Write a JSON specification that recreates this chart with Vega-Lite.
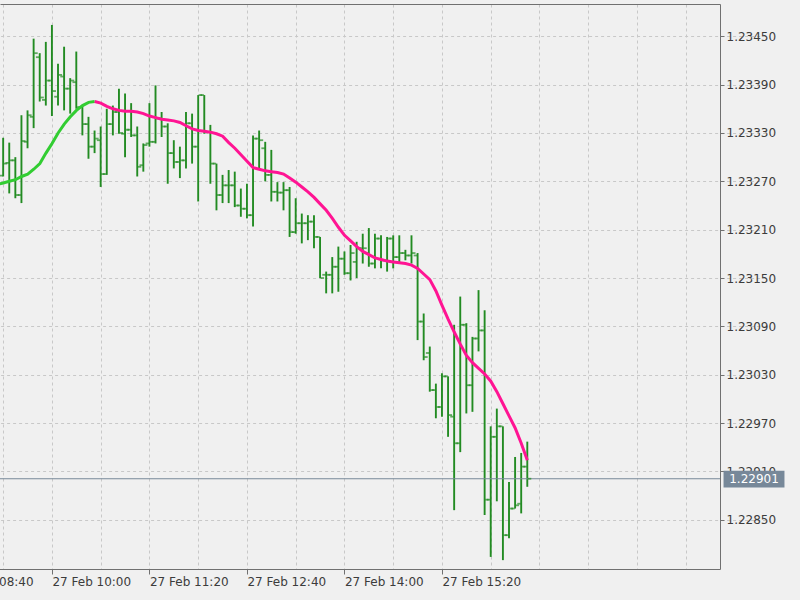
{
  "$schema": "https://vega.github.io/schema/vega-lite/v6.json",
  "description": "EURUSD M5, 27 Feb, bars with colour-changing moving average",
  "width": 720,
  "height": 565,
  "autosize": "none",
  "padding": {"left": 0, "top": 4, "right": 80, "bottom": 31},
  "background": "#f0f0f0",
  "datasets": {
    "bars": [
      {"t": "2018-02-27T09:15", "up": 1.23266},
      {"t": "2018-02-27T09:20", "o": 1.23277, "h": 1.23324, "l": 1.23276, "c": 1.23292, "up": 1.23268},
      {"t": "2018-02-27T09:25", "o": 1.23293, "h": 1.23318, "l": 1.23255, "c": 1.23296, "up": 1.23270},
      {"t": "2018-02-27T09:30", "o": 1.23296, "h": 1.23300, "l": 1.23249, "c": 1.23253, "up": 1.23272},
      {"t": "2018-02-27T09:35", "o": 1.23253, "h": 1.23352, "l": 1.23243, "c": 1.23320, "up": 1.23276},
      {"t": "2018-02-27T09:40", "o": 1.23319, "h": 1.23358, "l": 1.23311, "c": 1.23352, "up": 1.23279},
      {"t": "2018-02-27T09:45", "o": 1.23350, "h": 1.23447, "l": 1.23336, "c": 1.23429, "up": 1.23285},
      {"t": "2018-02-27T09:50", "o": 1.23424, "h": 1.23429, "l": 1.23369, "c": 1.23374, "up": 1.23292},
      {"t": "2018-02-27T09:55", "o": 1.23371, "h": 1.23443, "l": 1.23364, "c": 1.23395, "up": 1.23305},
      {"t": "2018-02-27T10:00", "o": 1.23395, "h": 1.23464, "l": 1.23351, "c": 1.23382, "up": 1.23317},
      {"t": "2018-02-27T10:05", "o": 1.23375, "h": 1.23416, "l": 1.23364, "c": 1.23402, "up": 1.23330},
      {"t": "2018-02-27T10:10", "o": 1.23400, "h": 1.23437, "l": 1.23358, "c": 1.23385, "up": 1.23341},
      {"t": "2018-02-27T10:15", "o": 1.23385, "h": 1.23398, "l": 1.23354, "c": 1.23395, "up": 1.23350},
      {"t": "2018-02-27T10:20", "o": 1.23393, "h": 1.23431, "l": 1.23360, "c": 1.23362, "up": 1.23358},
      {"t": "2018-02-27T10:25", "o": 1.23362, "h": 1.23364, "l": 1.23327, "c": 1.23341, "up": 1.23364},
      {"t": "2018-02-27T10:30", "o": 1.23341, "h": 1.23350, "l": 1.23298, "c": 1.23313, "up": 1.23368},
      {"t": "2018-02-27T10:35", "o": 1.23313, "h": 1.23333, "l": 1.23305, "c": 1.23323, "up": 1.23369, "dn": 1.23369},
      {"t": "2018-02-27T10:40", "o": 1.23321, "h": 1.23338, "l": 1.23263, "c": 1.23279, "dn": 1.23367},
      {"t": "2018-02-27T10:45", "o": 1.23279, "h": 1.23360, "l": 1.23278, "c": 1.23341, "dn": 1.23363},
      {"t": "2018-02-27T10:50", "o": 1.23341, "h": 1.23364, "l": 1.23327, "c": 1.23356, "dn": 1.23360},
      {"t": "2018-02-27T10:55", "o": 1.23356, "h": 1.23385, "l": 1.23329, "c": 1.23330, "dn": 1.23358},
      {"t": "2018-02-27T11:00", "o": 1.23329, "h": 1.23379, "l": 1.23300, "c": 1.23334, "dn": 1.23357},
      {"t": "2018-02-27T11:05", "o": 1.23334, "h": 1.23367, "l": 1.23325, "c": 1.23327, "dn": 1.23357},
      {"t": "2018-02-27T11:10", "o": 1.23327, "h": 1.23338, "l": 1.23276, "c": 1.23288, "dn": 1.23356},
      {"t": "2018-02-27T11:15", "o": 1.23290, "h": 1.23317, "l": 1.23282, "c": 1.23315, "dn": 1.23354},
      {"t": "2018-02-27T11:20", "o": 1.23317, "h": 1.23367, "l": 1.23313, "c": 1.23319, "dn": 1.23351},
      {"t": "2018-02-27T11:25", "o": 1.23319, "h": 1.23389, "l": 1.23317, "c": 1.23348, "dn": 1.23349},
      {"t": "2018-02-27T11:30", "o": 1.23348, "h": 1.23356, "l": 1.23325, "c": 1.23338, "dn": 1.23347},
      {"t": "2018-02-27T11:35", "o": 1.23338, "h": 1.23342, "l": 1.23267, "c": 1.23305, "dn": 1.23346},
      {"t": "2018-02-27T11:40", "o": 1.23305, "h": 1.23321, "l": 1.23286, "c": 1.23294, "dn": 1.23345},
      {"t": "2018-02-27T11:45", "o": 1.23294, "h": 1.23313, "l": 1.23274, "c": 1.23296, "dn": 1.23343},
      {"t": "2018-02-27T11:50", "o": 1.23296, "h": 1.23356, "l": 1.23286, "c": 1.23342, "dn": 1.23339},
      {"t": "2018-02-27T11:55", "o": 1.23342, "h": 1.23354, "l": 1.23292, "c": 1.23313, "dn": 1.23335},
      {"t": "2018-02-27T12:00", "o": 1.23313, "h": 1.23377, "l": 1.23245, "c": 1.23377, "dn": 1.23333},
      {"t": "2018-02-27T12:05", "o": 1.23377, "h": 1.23377, "l": 1.23329, "c": 1.23331, "dn": 1.23332},
      {"t": "2018-02-27T12:10", "o": 1.23331, "h": 1.23340, "l": 1.23267, "c": 1.23292, "dn": 1.23331},
      {"t": "2018-02-27T12:15", "o": 1.23292, "h": 1.23292, "l": 1.23234, "c": 1.23253, "dn": 1.23329},
      {"t": "2018-02-27T12:20", "o": 1.23253, "h": 1.23278, "l": 1.23243, "c": 1.23265, "dn": 1.23326},
      {"t": "2018-02-27T12:25", "o": 1.23265, "h": 1.23284, "l": 1.23243, "c": 1.23265, "dn": 1.23318},
      {"t": "2018-02-27T12:30", "o": 1.23265, "h": 1.23282, "l": 1.23238, "c": 1.23240, "dn": 1.23311},
      {"t": "2018-02-27T12:35", "o": 1.23240, "h": 1.23261, "l": 1.23226, "c": 1.23236, "dn": 1.23303},
      {"t": "2018-02-27T12:40", "o": 1.23236, "h": 1.23267, "l": 1.23224, "c": 1.23228, "dn": 1.23295},
      {"t": "2018-02-27T12:45", "o": 1.23228, "h": 1.23327, "l": 1.23214, "c": 1.23323, "dn": 1.23287},
      {"t": "2018-02-27T12:50", "o": 1.23323, "h": 1.23333, "l": 1.23284, "c": 1.23321, "dn": 1.23285},
      {"t": "2018-02-27T12:55", "o": 1.23311, "h": 1.23319, "l": 1.23270, "c": 1.23278, "dn": 1.23283},
      {"t": "2018-02-27T13:00", "o": 1.23278, "h": 1.23309, "l": 1.23245, "c": 1.23257, "dn": 1.23282},
      {"t": "2018-02-27T13:05", "o": 1.23257, "h": 1.23269, "l": 1.23245, "c": 1.23256, "dn": 1.23281},
      {"t": "2018-02-27T13:10", "o": 1.23256, "h": 1.23269, "l": 1.23234, "c": 1.23259, "dn": 1.23279},
      {"t": "2018-02-27T13:15", "o": 1.23259, "h": 1.23263, "l": 1.23201, "c": 1.23207, "dn": 1.23274},
      {"t": "2018-02-27T13:20", "o": 1.23207, "h": 1.23249, "l": 1.23205, "c": 1.23218, "dn": 1.23269},
      {"t": "2018-02-27T13:25", "o": 1.23218, "h": 1.23230, "l": 1.23193, "c": 1.23218, "dn": 1.23263},
      {"t": "2018-02-27T13:30", "o": 1.23218, "h": 1.23228, "l": 1.23197, "c": 1.23220, "dn": 1.23257},
      {"t": "2018-02-27T13:35", "o": 1.23220, "h": 1.23228, "l": 1.23187, "c": 1.23201, "dn": 1.23250},
      {"t": "2018-02-27T13:40", "o": 1.23201, "h": 1.23201, "l": 1.23150, "c": 1.23150, "dn": 1.23242},
      {"t": "2018-02-27T13:45", "o": 1.23154, "h": 1.23158, "l": 1.23131, "c": 1.23154, "dn": 1.23234},
      {"t": "2018-02-27T13:50", "o": 1.23154, "h": 1.23176, "l": 1.23131, "c": 1.23164, "dn": 1.23224},
      {"t": "2018-02-27T13:55", "o": 1.23164, "h": 1.23189, "l": 1.23133, "c": 1.23174, "dn": 1.23213},
      {"t": "2018-02-27T14:00", "o": 1.23174, "h": 1.23183, "l": 1.23154, "c": 1.23156, "dn": 1.23203},
      {"t": "2018-02-27T14:05", "o": 1.23156, "h": 1.23191, "l": 1.23147, "c": 1.23181, "dn": 1.23196},
      {"t": "2018-02-27T14:10", "o": 1.23170, "h": 1.23195, "l": 1.23150, "c": 1.23187, "dn": 1.23189},
      {"t": "2018-02-27T14:15", "o": 1.23187, "h": 1.23205, "l": 1.23168, "c": 1.23187, "dn": 1.23183},
      {"t": "2018-02-27T14:20", "o": 1.23181, "h": 1.23212, "l": 1.23164, "c": 1.23168, "dn": 1.23179},
      {"t": "2018-02-27T14:25", "o": 1.23168, "h": 1.23205, "l": 1.23162, "c": 1.23199, "dn": 1.23175},
      {"t": "2018-02-27T14:30", "o": 1.23199, "h": 1.23203, "l": 1.23162, "c": 1.23172, "dn": 1.23173},
      {"t": "2018-02-27T14:35", "o": 1.23172, "h": 1.23201, "l": 1.23158, "c": 1.23199, "dn": 1.23171},
      {"t": "2018-02-27T14:40", "o": 1.23199, "h": 1.23203, "l": 1.23162, "c": 1.23176, "dn": 1.23170},
      {"t": "2018-02-27T14:45", "o": 1.23176, "h": 1.23203, "l": 1.23168, "c": 1.23181, "dn": 1.23169},
      {"t": "2018-02-27T14:50", "o": 1.23181, "h": 1.23185, "l": 1.23172, "c": 1.23178, "dn": 1.23168},
      {"t": "2018-02-27T14:55", "o": 1.23178, "h": 1.23203, "l": 1.23168, "c": 1.23181, "dn": 1.23166},
      {"t": "2018-02-27T15:00", "o": 1.23178, "h": 1.23181, "l": 1.23073, "c": 1.23096, "dn": 1.23162},
      {"t": "2018-02-27T15:05", "o": 1.23096, "h": 1.23106, "l": 1.23048, "c": 1.23052, "dn": 1.23155},
      {"t": "2018-02-27T15:10", "o": 1.23057, "h": 1.23065, "l": 1.23009, "c": 1.23011, "dn": 1.23148},
      {"t": "2018-02-27T15:15", "o": 1.23011, "h": 1.23019, "l": 1.22976, "c": 1.22990, "dn": 1.23134},
      {"t": "2018-02-27T15:20", "o": 1.22990, "h": 1.23032, "l": 1.22978, "c": 1.23028, "dn": 1.23116},
      {"t": "2018-02-27T15:25", "o": 1.23028, "h": 1.23028, "l": 1.22953, "c": 1.22980, "dn": 1.23099},
      {"t": "2018-02-27T15:30", "o": 1.22978, "h": 1.23092, "l": 1.22862, "c": 1.22945, "dn": 1.23083},
      {"t": "2018-02-27T15:35", "o": 1.22945, "h": 1.23127, "l": 1.22934, "c": 1.23092, "dn": 1.23068},
      {"t": "2018-02-27T15:40", "o": 1.23092, "h": 1.23094, "l": 1.22982, "c": 1.23017, "dn": 1.23054},
      {"t": "2018-02-27T15:45", "o": 1.23017, "h": 1.23077, "l": 1.22984, "c": 1.23075, "dn": 1.23045},
      {"t": "2018-02-27T15:50", "o": 1.23075, "h": 1.23135, "l": 1.23059, "c": 1.23085, "dn": 1.23038},
      {"t": "2018-02-27T15:55", "o": 1.23085, "h": 1.23110, "l": 1.22856, "c": 1.22875, "dn": 1.23031},
      {"t": "2018-02-27T16:00", "o": 1.22875, "h": 1.22966, "l": 1.22804, "c": 1.22953, "dn": 1.23022},
      {"t": "2018-02-27T16:05", "o": 1.22953, "h": 1.22988, "l": 1.22873, "c": 1.22966, "dn": 1.23009},
      {"t": "2018-02-27T16:10", "o": 1.22966, "h": 1.22966, "l": 1.22800, "c": 1.22831, "dn": 1.22994},
      {"t": "2018-02-27T16:15", "o": 1.22831, "h": 1.22897, "l": 1.22827, "c": 1.22864, "dn": 1.22979},
      {"t": "2018-02-27T16:20", "o": 1.22864, "h": 1.22928, "l": 1.22864, "c": 1.22868, "dn": 1.22964},
      {"t": "2018-02-27T16:25", "o": 1.22870, "h": 1.22933, "l": 1.22858, "c": 1.22916, "dn": 1.22945},
      {"t": "2018-02-27T16:30", "o": 1.22916, "h": 1.22947, "l": 1.22891, "c": 1.22901, "dn": 1.22924}
    ],
    "last": [{"price": 1.22901}]
  },
  "resolve": {"scale": {"x": "independent"}, "axis": {"x": "independent"}},
  "layer": [
    {
      "data": {"name": "bars"},
      "mark": {"type": "rule", "color": "#228b22", "strokeWidth": 1.9},
      "encoding": {
        "x": {
          "field": "t", "type": "temporal",
          "scale": {
            "domain": [
              {"year": 2018, "month": 2, "date": 27, "hours": 8, "minutes": 40},
              {"year": 2018, "month": 2, "date": 27, "hours": 19, "minutes": 8, "seconds": 6}
            ],
            "range": [-45.6, 720]
          },
          "axis": {
            "orient": "bottom",
            "title": null,
            "values": [
              {"year": 2018, "month": 2, "date": 27, "hours": 8, "minutes": 40},
              {"year": 2018, "month": 2, "date": 27, "hours": 9, "minutes": 20},
              {"year": 2018, "month": 2, "date": 27, "hours": 10, "minutes": 0},
              {"year": 2018, "month": 2, "date": 27, "hours": 10, "minutes": 40},
              {"year": 2018, "month": 2, "date": 27, "hours": 11, "minutes": 20},
              {"year": 2018, "month": 2, "date": 27, "hours": 12, "minutes": 0},
              {"year": 2018, "month": 2, "date": 27, "hours": 12, "minutes": 40},
              {"year": 2018, "month": 2, "date": 27, "hours": 13, "minutes": 20},
              {"year": 2018, "month": 2, "date": 27, "hours": 14, "minutes": 0},
              {"year": 2018, "month": 2, "date": 27, "hours": 14, "minutes": 40},
              {"year": 2018, "month": 2, "date": 27, "hours": 15, "minutes": 20},
              {"year": 2018, "month": 2, "date": 27, "hours": 16, "minutes": 0},
              {"year": 2018, "month": 2, "date": 27, "hours": 16, "minutes": 40},
              {"year": 2018, "month": 2, "date": 27, "hours": 17, "minutes": 20},
              {"year": 2018, "month": 2, "date": 27, "hours": 18, "minutes": 0},
              {"year": 2018, "month": 2, "date": 27, "hours": 18, "minutes": 40}
            ],
            "labelExpr": "(hours(datum.value) * 60 + minutes(datum.value) - 600) % 80 === 0 && hours(datum.value) < 16 ? timeFormat(datum.value, '%d %b %H:%M') : ''",
            "tickOpacity": {
              "condition": {"test": "(hours(datum.value) * 60 + minutes(datum.value) - 600) % 80 === 0 && hours(datum.value) < 16", "value": 1},
              "value": 0
            },
            "labelAlign": "left",
            "labelBaseline": "top",
            "labelBound": false,
            "labelFlush": false,
            "labelOverlap": false,
            "labelPadding": 2,
            "tickSize": 5,
            "grid": true
          }
        },
        "y": {
          "field": "l", "type": "quantitative",
          "scale": {"domain": [1.22789, 1.2349], "zero": false, "nice": false},
          "axis": {
            "orient": "right",
            "title": null,
            "values": [1.2285, 1.2291, 1.2297, 1.2303, 1.2309, 1.2315, 1.2321, 1.2327, 1.2333, 1.2339, 1.2345],
            "format": ".5f",
            "labelAlign": "left",
            "labelBaseline": "middle",
            "labelPadding": 2,
            "tickSize": 4,
            "grid": true
          }
        },
        "y2": {"field": "h"}
      }
    },
    {
      "layer": [
        {
          "data": {"name": "last"},
          "mark": {"type": "rule", "color": "#778899", "strokeWidth": 1.2},
          "encoding": {
            "y": {"field": "price", "type": "quantitative"}
          }
        },
        {
          "data": {"name": "bars"},
          "mark": {"type": "tick", "orient": "horizontal", "color": "#228b22", "size": 3.5, "thickness": 1.8},
          "encoding": {
            "x": {
              "field": "t", "type": "temporal",
              "scale": {"domain": [
                {"year": 2018, "month": 2, "date": 27, "hours": 9, "minutes": 17, "seconds": 18},
                {"year": 2018, "month": 2, "date": 27, "hours": 19, "minutes": 8, "seconds": 6}
              ]},
              "axis": {"orient": "top", "title": null, "labels": false, "ticks": false, "grid": false, "domain": true}
            },
            "y": {"field": "o", "type": "quantitative"},
            "xOffset": {"value": -2.2}
          }
        },
        {
          "data": {"name": "bars"},
          "mark": {"type": "tick", "orient": "horizontal", "color": "#228b22", "size": 3.5, "thickness": 1.8},
          "encoding": {
            "x": {"field": "t", "type": "temporal"},
            "y": {"field": "c", "type": "quantitative"},
            "xOffset": {"value": 2.2}
          }
        },
        {
          "data": {"name": "bars"},
          "mark": {"type": "line", "color": "#32cd32", "strokeWidth": 3, "clip": true},
          "encoding": {
            "x": {"field": "t", "type": "temporal"},
            "y": {"field": "up", "type": "quantitative"}
          }
        },
        {
          "data": {"name": "bars"},
          "mark": {"type": "line", "color": "#ff1493", "strokeWidth": 3, "clip": true},
          "encoding": {
            "x": {"field": "t", "type": "temporal"},
            "y": {"field": "dn", "type": "quantitative"}
          }
        },
        {
          "data": {"name": "last"},
          "mark": {"type": "rect", "color": "#778899"},
          "encoding": {
            "x": {"datum": {"year": 2018, "month": 2, "date": 27, "hours": 19, "minutes": 11}, "type": "temporal"},
            "x2": {"datum": {"year": 2018, "month": 2, "date": 27, "hours": 20, "minutes": 1}},
            "y": {"datum": 1.22911, "type": "quantitative"},
            "y2": {"datum": 1.2289}
          }
        },
        {
          "data": {"name": "last"},
          "mark": {"type": "text", "color": "#ffffff", "font": "DejaVu Sans", "fontSize": 12, "align": "center", "baseline": "middle"},
          "encoding": {
            "x": {"datum": {"year": 2018, "month": 2, "date": 27, "hours": 19, "minutes": 36}, "type": "temporal"},
            "y": {"field": "price", "type": "quantitative"},
            "text": {"field": "price", "format": ".5f"}
          }
        }
      ]
    }
  ],
  "config": {
    "view": {"stroke": null},
    "axis": {
      "labelFont": "DejaVu Sans",
      "labelFontSize": 12,
      "labelColor": "#3c3c3c",
      "domainColor": "#707070",
      "domainWidth": 1,
      "tickColor": "#707070",
      "gridColor": "#c8c8c8",
      "gridDash": [3, 3],
      "gridWidth": 1,
      "zindex": 0
    }
  }
}
